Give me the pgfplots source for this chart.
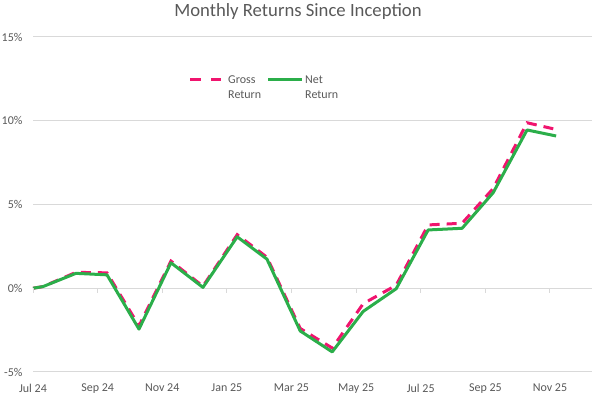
\documentclass[border=0pt]{standalone}
\usepackage{fontspec}
\setmainfont{Carlito}
\usepackage{pgfplots}
\pgfplotsset{compat=1.18}
\definecolor{grossc}{HTML}{F0146E}
\definecolor{netc}{HTML}{2BAE4A}
\definecolor{txt}{HTML}{595959}
\definecolor{gridc}{HTML}{D9D9D9}
\begin{document}
\begin{tikzpicture}[x=1pt,y=1pt]
\path[use as bounding box] (0,0) rectangle (598,396);
\begin{axis}[
  at={(33pt,24pt)}, anchor=south west,
  scale only axis, width=559pt, height=335pt,
  xmin=0, xmax=17.3, ymin=-5, ymax=15,
  axis line style={draw=none},
  major tick length=0pt,
  ymajorgrids, grid style={gridc, line width=1pt},
  xtick={0,2,4,6,8,10,12,14,16},
  xticklabels={Jul 24,Sep 24,Nov 24,Jan 25,Mar 25,May 25,Jul 25,Sep 25,Nov 25},
  ytick={-5,0,5,10,15},
  yticklabel={\pgfmathprintnumber{\tick}\%},
  /pgf/number format/assume math mode=true,
  tick label style={font=\fontsize{12}{14}\selectfont, text=txt},
  xticklabel style={yshift=-8.5pt},
  yticklabel style={xshift=-7pt},
  clip=false,
]
\addplot[grossc, line width=3pt, dash pattern=on 10pt off 7pt] coordinates {
(0,0) (0.31,0.10) (1.33,0.95) (2.29,0.92) (3.28,-2.25) (4.27,1.62) (5.26,0.12)
(6.32,3.20) (7.24,1.85) (8.27,-2.40) (9.26,-3.57) (10.22,-0.92) (11.24,0.18)
(12.23,3.78) (13.28,3.88) (14.24,5.95) (15.29,9.88) (16.19,9.48)};
\addplot[netc, line width=3pt, line join=round] coordinates {
(0,0) (0.31,0.10) (1.33,0.89) (2.29,0.80) (3.28,-2.44) (4.27,1.52) (5.26,0.05)
(6.32,3.07) (7.24,1.74) (8.27,-2.55) (9.26,-3.80) (10.22,-1.38) (11.24,-0.03)
(12.23,3.48) (13.28,3.58) (14.24,5.70) (15.29,9.45) (16.19,9.09)};
\end{axis}
\foreach \k in {0,...,8} {\draw[gridc, line width=1pt] ({33+64.62*\k},107.75) -- ++(0,-5);}
\node[text=txt, font=\fontsize{18.7}{22}\selectfont] at (298,384) {Monthly Returns Since Inception};
\draw[grossc, line width=3pt, dash pattern=on 11pt off 10pt] (190,316) -- (221,316);
\node[anchor=north west, align=left, text=txt, font=\fontsize{12}{15}\selectfont, inner sep=0pt] at (228,320) {Gross\\Return};
\draw[netc, line width=3pt] (268,316) -- (302,316);
\node[anchor=north west, align=left, text=txt, font=\fontsize{12}{15}\selectfont, inner sep=0pt] at (305,320) {Net\\Return};
\end{tikzpicture}
\end{document}
